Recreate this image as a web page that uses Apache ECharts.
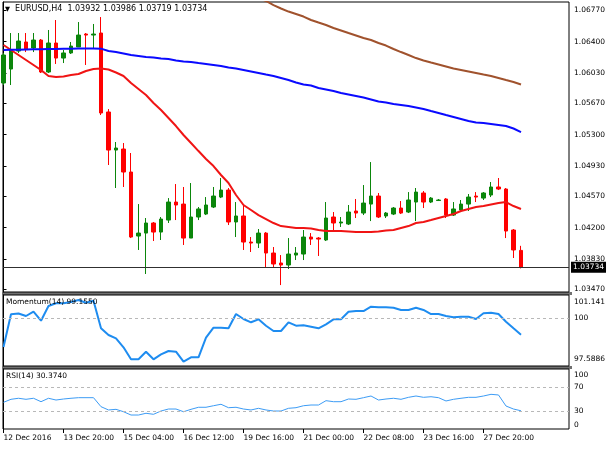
<!DOCTYPE html>
<html><head><meta charset="utf-8">
<script src="https://cdn.jsdelivr.net/npm/echarts@6/dist/echarts.min.js"></script>
<style>html,body{margin:0;padding:0;background:#fff}#c{width:610px;height:450px}</style>
</head><body><div id="c"></div>
<script>
const symbolName = 'EURUSD,H4';
const dateLabels = ['12 Dec 2016','13 Dec 20:00','15 Dec 04:00','16 Dec 12:00','19 Dec 16:00','21 Dec 00:00','22 Dec 08:00','23 Dec 16:00','27 Dec 20:00'];
const dateTicks = [0,8,16,24,32,40,48,56,64];
const priceTicks = [1.0347,1.0383,1.0420,1.0457,1.0493,1.0530,1.0567,1.0603,1.0640,1.0677];
const momTicks = [97.5886,100,101.141];
const momTickLabels = ['97.5886','100','101.141'];
const rsiTicks = [0,30,70,100];

const opens = [1.05912,1.06077,1.06290,1.06397,1.06326,1.06420,1.06042,1.06385,1.06207,1.06267,
1.06338,1.06491,1.06479,1.06503,1.05569,1.05119,1.05131,1.04859,1.04102,1.04137,
1.04256,1.04149,1.04291,1.04504,1.04480,1.04078,1.04327,1.04362,1.04445,1.04563,
1.04646,1.04268,1.04339,1.04031,1.04019,1.04137,1.03901,1.03783,1.03759,1.03877,
1.03889,1.04090,1.04078,1.04055,1.04327,1.04256,1.04244,1.04398,1.04374,1.04480,
1.04575,1.04339,1.04362,1.04433,1.04386,1.04504,1.04611,1.04504,1.04522,1.04540,
1.04350,1.04410,1.04480,1.04575,1.04551,1.04587,1.04682,1.04658,1.04173,1.03932];
const closes = [1.06243,1.06302,1.06408,1.06314,1.06420,1.06042,1.06385,1.06207,1.06267,1.06349,
1.06479,1.06479,1.06491,1.05557,1.05119,1.05143,1.04859,1.04090,1.04137,1.04256,
1.04149,1.04303,1.04504,1.04469,1.04078,1.04327,1.04422,1.04469,1.04575,1.04646,
1.04268,1.04339,1.04031,1.04019,1.04137,1.03901,1.03771,1.03759,1.03889,1.03901,
1.04090,1.04066,1.04066,1.04315,1.04256,1.04268,1.04386,1.04374,1.04492,1.04575,
1.04327,1.04374,1.04433,1.04374,1.04528,1.04622,1.04504,1.04551,1.04528,1.04350,
1.04422,1.04480,1.04563,1.04563,1.04611,1.04682,1.04658,1.04161,1.03937,1.03734];
const highs = [1.06267,1.06503,1.06503,1.06503,1.06503,1.06432,1.06539,1.06657,1.06302,1.06397,
1.06633,1.06503,1.06610,1.06692,1.05604,1.05214,1.05202,1.05084,1.04480,1.04315,
1.04268,1.04327,1.04551,1.04717,1.04682,1.04729,1.04445,1.04563,1.04682,1.04788,
1.04670,1.04504,1.04469,1.04090,1.04185,1.04149,1.03972,1.03877,1.04078,1.03972,
1.04173,1.04137,1.04090,1.04504,1.04386,1.04327,1.04469,1.04540,1.04705,1.04977,
1.04611,1.04386,1.04445,1.04516,1.04622,1.04670,1.04634,1.04563,1.04540,1.04551,
1.04504,1.04528,1.04599,1.04622,1.04622,1.04741,1.04788,1.04670,1.04185,1.03986];
const lows = [1.05888,1.05888,1.06267,1.06278,1.06278,1.06030,1.06030,1.06137,1.06148,1.06255,
1.06338,1.06125,1.06326,1.05533,1.04942,1.04670,1.04682,1.04078,1.03937,1.03653,
1.04043,1.04055,1.04256,1.04291,1.03996,1.04078,1.04291,1.04350,1.04433,1.04551,
1.04232,1.04090,1.03937,1.03913,1.03960,1.03735,1.03735,1.03522,1.03712,1.03818,
1.03818,1.03996,1.03866,1.04043,1.04173,1.04209,1.04232,1.04315,1.04350,1.04279,
1.04315,1.04315,1.04350,1.04362,1.04374,1.04279,1.04433,1.04492,1.04516,1.04315,
1.04339,1.04386,1.04398,1.04504,1.04528,1.04563,1.04646,1.04078,1.03842,1.03719];

const maRed = [1.06361,1.06302,1.06243,1.06184,1.06125,1.06066,1.05995,1.05983,1.05989,1.06006,
1.06018,1.06054,1.06077,1.06083,1.06071,1.06036,1.05995,1.05912,1.05841,1.05770,
1.05675,1.05592,1.05498,1.05403,1.05297,1.05202,1.05107,1.05013,1.04930,1.04824,
1.04729,1.04587,1.04469,1.04410,1.04350,1.04303,1.04256,1.04220,1.04209,1.04197,
1.04197,1.04191,1.04173,1.04161,1.04161,1.04161,1.04155,1.04149,1.04149,1.04149,
1.04155,1.04167,1.04173,1.04197,1.04220,1.04256,1.04268,1.04291,1.04315,1.04339,
1.04362,1.04398,1.04422,1.04445,1.04457,1.04475,1.04492,1.04504,1.04457,1.04422];
const maBlue = [1.06302,1.06304,1.06306,1.06308,1.06310,1.06311,1.06313,1.06314,1.06316,1.06318,
1.06319,1.06320,1.06321,1.06318,1.06290,1.06278,1.06261,1.06243,1.06231,1.06219,
1.06213,1.06201,1.06195,1.06178,1.06166,1.06160,1.06148,1.06137,1.06125,1.06113,
1.06095,1.06083,1.06066,1.06048,1.06030,1.06012,1.05995,1.05971,1.05947,1.05918,
1.05894,1.05882,1.05853,1.05835,1.05817,1.05793,1.05776,1.05758,1.05740,1.05717,
1.05693,1.05681,1.05663,1.05652,1.05640,1.05622,1.05604,1.05580,1.05557,1.05533,
1.05510,1.05486,1.05462,1.05444,1.05439,1.05427,1.05415,1.05403,1.05374,1.05332];
const maBrownStart = 34;
const maBrown = [1.06915,1.06882,1.06834,1.06793,1.06757,1.06728,1.06698,1.06657,1.06627,1.06598,
1.06562,1.06533,1.06503,1.06474,1.06444,1.06420,1.06385,1.06355,1.06314,1.06278,
1.06243,1.06207,1.06178,1.06154,1.06131,1.06107,1.06083,1.06066,1.06048,1.06030,
1.06012,1.05995,1.05971,1.05947,1.05924,1.05894];

const momentum = [98.539,100.175,100.215,100.090,100.305,99.855,100.591,100.726,100.726,100.791,
100.891,100.756,100.856,99.475,99.140,98.975,98.524,97.924,97.924,98.304,
97.924,98.174,98.339,98.304,97.804,98.024,98.024,99.005,99.505,99.505,
99.475,100.190,99.940,99.775,99.925,99.605,99.340,99.340,99.775,99.605,
99.625,99.555,99.475,99.675,99.925,99.925,100.305,100.340,100.340,100.556,
100.526,100.526,100.506,100.391,100.391,100.506,100.391,100.190,100.190,100.090,
100.025,100.055,100.055,99.940,100.225,100.255,100.190,99.805,99.475,99.155];
const rsi = [44.5,49.5,51.2,49.5,51.2,45.5,51.2,48.3,50.0,51.2,
52.2,52.2,52.2,37.2,31.7,32.8,28.8,23.3,23.3,26.2,
24.5,30.0,33.3,33.3,28.8,32.8,36.2,36.2,38.8,41.2,
35.5,36.2,33.3,31.7,34.5,31.7,30.0,30.0,34.5,35.5,
38.8,40.0,40.0,47.2,45.5,45.5,50.0,49.5,52.2,55.0,
48.3,50.0,51.2,49.5,52.8,55.0,52.8,53.8,52.2,46.7,
49.5,51.2,52.8,52.8,55.0,57.8,56.7,38.3,33.3,30.374];
const momLevel = 100;
const rsiLevels = [30, 70];

const FONT = 'DejaVu Sans';
const n = opens.length;
const last = n - 1;
const candleData = opens.map((o, i) => [i, o, closes[i], lows[i], highs[i]]);
const pair = arr => arr.map((v, i) => [i, v]);

function nearestIdx(arr, v) {
  let b = 0;
  for (let i = 1; i < arr.length; i++) if (Math.abs(arr[i] - v) < Math.abs(arr[b] - v)) b = i;
  return b;
}
const lbl = { fontSize: 7.5, fontFamily: FONT, color: '#000' };

function xAx(gi, show) {
  return {
    type: 'value', gridIndex: gi, min: -0.067, max: 75.4, show: show,
    splitLine: { show: false }, axisLine: { show: false },
    axisTick: { show: true, customValues: dateTicks, length: 4, lineStyle: { color: '#000' } },
    axisLabel: Object.assign({ customValues: dateTicks, align: 'left', margin: 5,
      formatter: v => dateLabels[nearestIdx(dateTicks, v)] }, lbl)
  };
}

const chart = echarts.init(document.getElementById('c'), null, { renderer: 'canvas' });
chart.setOption({
  animation: false,
  backgroundColor: '#fff',
  title: [
    { text: '{tri|▼}  ' + symbolName + '  ' + [opens[last], highs[last], lows[last], closes[last]].map(v => v.toFixed(5)).join(' '),
      left: 5, top: 5, padding: 0,
      textStyle: { fontSize: 8, fontWeight: 'normal', fontFamily: FONT, color: '#000', rich: { tri: { fontSize: 6.5, fontFamily: FONT, color: '#000' } } } },
    { text: 'Momentum(14) ' + momentum[last].toFixed(4), left: 6, top: 298.5, padding: 0,
      textStyle: { fontSize: 7.5, fontWeight: 'normal', fontFamily: FONT, color: '#000' } },
    { text: 'RSI(14) ' + rsi[last].toFixed(4), left: 6, top: 372.5, padding: 0,
      textStyle: { fontSize: 7.5, fontWeight: 'normal', fontFamily: FONT, color: '#000' } }
  ],
  graphic: [
    { type: 'rect', z: -1, shape: { x: 2, y: 292, width: 570, height: 3 }, style: { fill: '#707070' } },
    { type: 'rect', z: -1, shape: { x: 2, y: 366, width: 570, height: 3 }, style: { fill: '#707070' } }
  ],
  grid: [
    { left: 3, top: 2, width: 566, height: 290, show: true, borderColor: '#000', borderWidth: 1, backgroundColor: '#fff' },
    { left: 3, top: 295, width: 566, height: 71, show: true, borderColor: '#000', borderWidth: 1, backgroundColor: '#fff' },
    { left: 3, top: 369, width: 566, height: 60, show: true, borderColor: '#000', borderWidth: 1, backgroundColor: '#fff' }
  ],
  xAxis: [xAx(0, false), xAx(1, false), xAx(2, true)],
  yAxis: [
    { type: 'value', gridIndex: 0, position: 'right', min: 1.0344, max: 1.0687,
      splitLine: { show: false }, axisLine: { show: true, lineStyle: { color: '#000' } },
      axisTick: { show: true, customValues: priceTicks, length: 3, lineStyle: { color: '#000' } },
      axisLabel: Object.assign({ customValues: priceTicks, margin: 5, formatter: v => v.toFixed(5) }, lbl) },
    { type: 'value', gridIndex: 1, position: 'right', min: momTicks[0], max: momTicks[2],
      splitLine: { show: false }, axisLine: { show: true, lineStyle: { color: '#000' } },
      axisTick: { show: false },
      axisLabel: Object.assign({ customValues: momTicks, margin: 5,
        formatter: v => { const i = nearestIdx(momTicks, v); return '{' + ['b', 'm', 't'][i] + '|' + momTickLabels[i] + '}'; },
        rich: { t: { padding: [14, 0, 0, 0], fontSize: 7.5, fontFamily: FONT }, m: { fontSize: 7.5, fontFamily: FONT }, b: { padding: [0, 0, 14, 0], fontSize: 7.5, fontFamily: FONT } } }, lbl) },
    { type: 'value', gridIndex: 2, position: 'right', min: 0, max: 100,
      splitLine: { show: false }, axisLine: { show: true, lineStyle: { color: '#000' } },
      axisTick: { show: false },
      axisLabel: Object.assign({ customValues: rsiTicks, margin: 5,
        formatter: v => { const t = rsiTicks[nearestIdx(rsiTicks, v)]; const k = t === 100 ? 't' : (t === 0 ? 'b' : 'm'); return '{' + k + '|' + t + '}'; },
        rich: { t: { padding: [12, 0, 0, 0], fontSize: 7.5, fontFamily: FONT }, m: { fontSize: 7.5, fontFamily: FONT }, b: { padding: [0, 0, 8, 0], fontSize: 7.5, fontFamily: FONT } } }, lbl) }
  ],
  series: [
    { type: 'candlestick', name: symbolName, xAxisIndex: 0, yAxisIndex: 0, barWidth: 4, data: candleData, silent: true,
      itemStyle: { color: '#0b860b', color0: '#ff0000', borderColor: '#0b860b', borderColor0: '#ff0000', borderWidth: 1 } },
    { type: 'line', xAxisIndex: 0, yAxisIndex: 0, data: pair(maRed), symbol: 'none', silent: true, z: 3,
      lineStyle: { color: '#f01414', width: 2 },
      markLine: { silent: true, symbol: ['none', 'none'], animation: false, precision: 5,
        lineStyle: { color: '#303030', width: 1, type: 'solid' },
        label: { show: true, position: 'end', distance: 2, formatter: () => closes[last].toFixed(5),
          color: '#fff', backgroundColor: '#000', padding: [2, 2, 1, 2], fontSize: 7.5, fontFamily: FONT },
        data: [{ yAxis: closes[last] }] } },
    { type: 'line', xAxisIndex: 0, yAxisIndex: 0, data: pair(maBlue), symbol: 'none', silent: true, z: 3,
      lineStyle: { color: '#0a0aff', width: 2 } },
    { type: 'line', xAxisIndex: 0, yAxisIndex: 0, data: maBrown.map((v, i) => [i + maBrownStart, v]), symbol: 'none', silent: true, z: 3,
      lineStyle: { color: '#a0522d', width: 2 } },
    { type: 'line', xAxisIndex: 1, yAxisIndex: 1, data: pair(momentum), symbol: 'none', silent: true,
      lineStyle: { color: '#1e8cf0', width: 2 },
      markLine: { silent: true, symbol: ['none', 'none'], animation: false, precision: 5, label: { show: false },
        lineStyle: { color: '#b8b8b8', width: 1, type: [3, 3] }, data: [{ yAxis: momLevel }] } },
    { type: 'line', xAxisIndex: 2, yAxisIndex: 2, data: pair(rsi), symbol: 'none', silent: true,
      lineStyle: { color: '#3d9cf5', width: 1 },
      markLine: { silent: true, symbol: ['none', 'none'], animation: false, precision: 5, label: { show: false },
        lineStyle: { color: '#b8b8b8', width: 1, type: [3, 3] }, data: rsiLevels.map(v => ({ yAxis: v })) } }
  ]
});
</script>
</body></html>
